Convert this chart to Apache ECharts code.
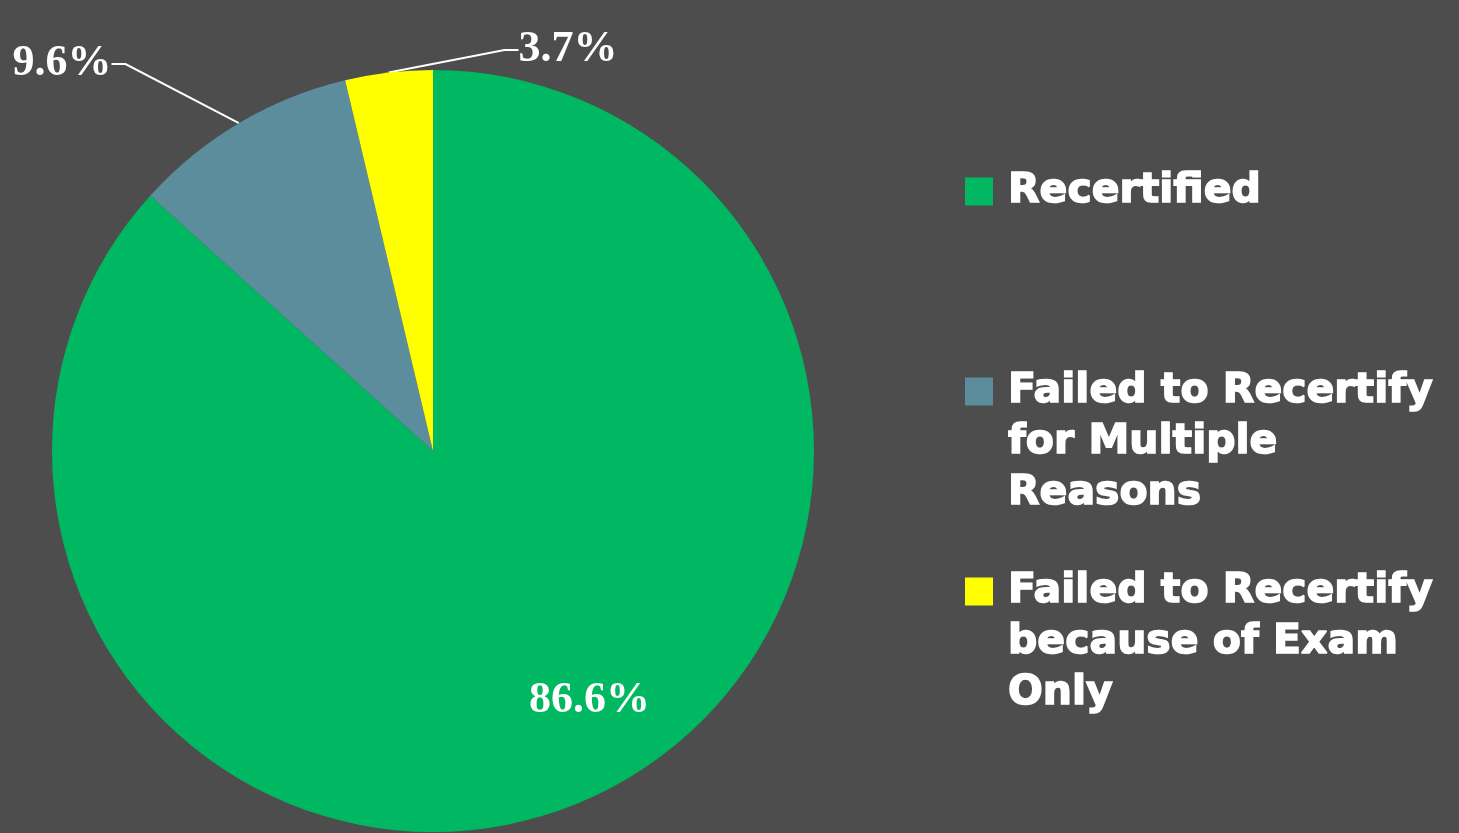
<!DOCTYPE html>
<html lang="en">
<head>
  <meta charset="UTF-8">
  <title>Recertification</title>
  <script src="https://cdn.jsdelivr.net/npm/echarts@6/dist/echarts.min.js"></script>
  <style>
    html, body { margin: 0; padding: 0; background: #4d4d4d; }
    #main { position: absolute; left: 0; top: 0; width: 1459px; height: 833px; }
  </style>
</head>
<body>
  <div id="main"></div>
  <script>
    // data
    var names = ['Recertified', 'Failed to Recertify for Multiple Reasons', 'Failed to Recertify because of Exam Only']
    var legendText = ['Recertified', 'Failed to Recertify\nfor Multiple\nReasons', 'Failed to Recertify\nbecause of Exam\nOnly']
    var values = [86.6, 9.6, 3.7]
    var colors = ['#00b862', '#5b8d9d', '#ffff00']

    var myChart = echarts.init(document.getElementById('main'))

    // two blank lines on top keep the icon level with the first text line
    var legendTops = [166, 264, 464]
    var legends = names.map(function (n, i) {
      var multi = i > 0
      return {
        orient: 'vertical',
        left: 965,
        top: legendTops[i],
        padding: 0,
        itemWidth: 28,
        itemHeight: 28,
        itemGap: 0,
        icon: 'rect',
        data: [n],
        formatter: function () { return multi ? ' \n \n' + legendText[i] : legendText[i] },
        textStyle: {
          color: '#fff',
          fontFamily: 'DejaVu Sans',
          fontWeight: 'bold',
          fontSize: 41,
          lineHeight: 51,
          textBorderColor: '#fff',
          textBorderWidth: 1.5,
          padding: [0, 0, 0, 10]
        }
      }
    })

    var option = {
      backgroundColor: '#4d4d4d',
      animation: false,
      legend: legends,
      series: [{
        type: 'pie',
        center: [433, 451],
        radius: 381,
        startAngle: 90,
        clockwise: true,
        avoidLabelOverlap: false,
        data: names.map(function (n, i) {
          return { name: n, value: values[i], itemStyle: { color: colors[i] } }
        }),
        label: {
          formatter: '{c}%',
          color: '#fff',
          fontFamily: 'Liberation Serif',
          fontWeight: 'bold',
          fontSize: 44
        },
        labelLine: {
          lineStyle: { color: '#fff', width: 2 },
          length: 110,
          length2: 14
        },
        labelLayout: function (p) {
          if (p.dataIndex === 0) return { dx: 78, dy: 73 }
          if (p.dataIndex === 1) return { x: 62, y: 64, align: 'center', verticalAlign: 'middle' }
          return { x: 568, y: 50, align: 'center', verticalAlign: 'middle' }
        }
      }]
    }
    option.series[0].data[0].label = { position: 'inside' }
    option.series[0].data[0].labelLine = { show: false }
    myChart.setOption(option)
  </script>
</body>
</html>
